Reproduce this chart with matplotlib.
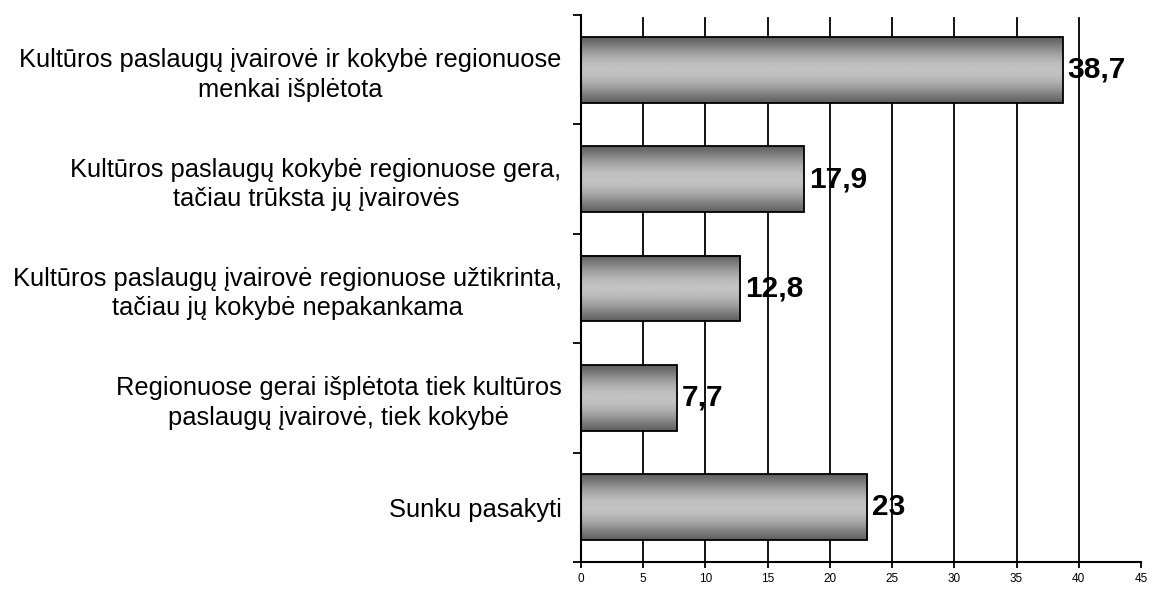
import numpy as np
import matplotlib.pyplot as plt

plt.rcParams['font.family'] = ['Liberation Sans', 'DejaVu Sans']

categories = [
    "Kultūros paslaugų įvairovė ir kokybė regionuose\nmenkai išplėtota",
    "Kultūros paslaugų kokybė regionuose gera,\ntačiau trūksta jų įvairovės",
    "Kultūros paslaugų įvairovė regionuose užtikrinta,\ntačiau jų kokybė nepakankama",
    "Regionuose gerai išplėtota tiek kultūros\npaslaugų įvairovė, tiek kokybė",
    "Sunku pasakyti",
]
values = [38.7, 17.9, 12.8, 7.7, 23]
value_labels = ["38,7", "17,9", "12,8", "7,7", "23"]

fig = plt.figure(figsize=(11.52, 5.9), dpi=100)
ax = fig.add_axes([581 / 1152, 28 / 590, 560 / 1152, 547 / 590])

ypos = np.arange(len(values))[::-1]
bar_h = 0.6

# vertical gradient: dark edges, light middle
t = np.linspace(0, 1, 64)
shade = 0.38 + 0.38 * np.sin(np.pi * t) ** 1.2
grad = np.tile(shade[:, None], (1, 2))

for y, v, lab in zip(ypos, values, value_labels):
    ax.imshow(grad, cmap='gray', vmin=0, vmax=1, aspect='auto',
              extent=(0, v, y - bar_h / 2, y + bar_h / 2), zorder=2,
              interpolation='bilinear')
    ax.add_patch(plt.Rectangle((0, y - bar_h / 2), v, bar_h, fill=False,
                               edgecolor='black', linewidth=1.3, zorder=3))
    ax.text(v + 0.4, y, lab, fontsize=21.5, fontweight='bold', va='center',
            ha='left', zorder=4)

ax.set_xlim(0, 45)
ax.set_ylim(-0.5, len(values) - 0.5)
ax.set_xticks(np.arange(0, 46, 5))
ax.tick_params(axis='x', labelsize=8.5, length=4, width=1.3, pad=4)
for gx in np.arange(5, 45, 5):
    ax.axvline(gx, ymax=0.995, color='black', linewidth=1.3, zorder=1)

ax.set_yticks(ypos)
ax.set_yticklabels(categories, fontsize=18.4, ha='right', multialignment='center',
                   linespacing=1.28)
ax.tick_params(axis='y', which='major', length=0, pad=14)
ax.set_yticks(np.arange(-0.5, len(values), 1), minor=True)
ax.tick_params(axis='y', which='minor', length=6, width=1.3)

for s in ['top', 'right']:
    ax.spines[s].set_visible(False)
for s in ['left', 'bottom']:
    ax.spines[s].set_linewidth(1.5)

fig.savefig('out.png', dpi=100)
